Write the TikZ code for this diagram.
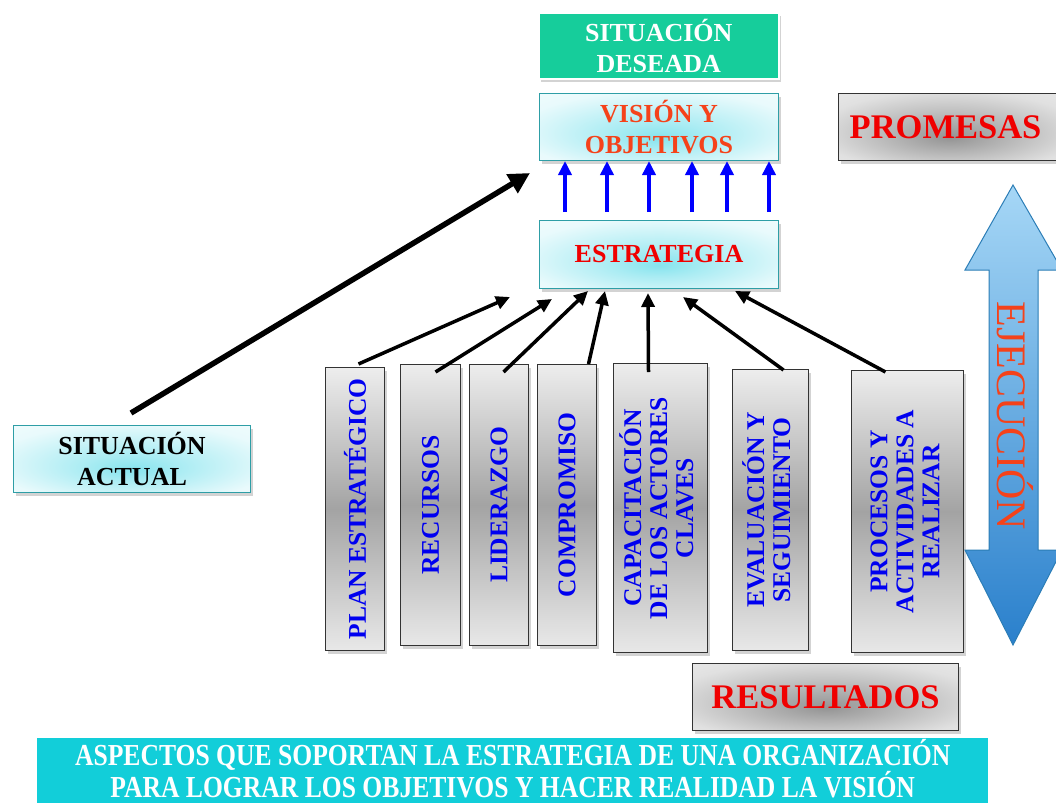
\documentclass[tikz,border=0pt]{standalone}
\usepackage{fontspec}
\setmainfont{Liberation Serif}
\newfontfamily\condfont[FakeStretch=0.84]{Liberation Serif}
\usetikzlibrary{shadows,arrows.meta,calc}
\definecolor{deseada}{HTML}{16CD9B}
\definecolor{boxcyan}{HTML}{86E4EE}
\definecolor{cyanedge}{HTML}{2E9EA6}
\definecolor{orangered}{HTML}{F5421A}
\definecolor{banner}{HTML}{12CED9}
\definecolor{txtblue}{HTML}{0000F0}
\definecolor{txtred}{HTML}{F00000}
\definecolor{arrtop}{HTML}{A6D7F6}
\definecolor{arrbot}{HTML}{2A80CC}
\definecolor{arredge}{HTML}{2B7DB6}
\pgfdeclareradialshading{cyanrad}{\pgfpoint{0bp}{-8bp}}{color(0bp)=(boxcyan); color(10bp)=(boxcyan!70); color(30bp)=(boxcyan!18); color(50bp)=(boxcyan!6)}
\pgfdeclareradialshading{grayrad}{\pgfpoint{0bp}{-8bp}}{color(0bp)=(black!42); color(10bp)=(black!32); color(30bp)=(black!12); color(50bp)=(black!5)}
\newcommand\vtxt{\fontsize{25.5}{29}\selectfont\bfseries\color{txtblue}}
\begin{document}
\begin{tikzpicture}[x=1pt,y=-1pt,
  shad/.style={drop shadow={shadow xshift=2pt,shadow yshift=-3pt,opacity=0.35}},
  cbox/.style={draw=cyanedge,line width=1pt,shading=cyanrad,shad,
     font=\fontsize{26}{31}\selectfont\bfseries,align=center,inner sep=0pt,anchor=north west},
  hbox/.style={draw=black!80,line width=1pt,shading=grayrad,shad,
     inner sep=0pt,anchor=north west},
  gbox/.style={draw=black!80,line width=1pt,top color=black!7,bottom color=black!9,middle color=black!36,shad,
     inner sep=0pt,anchor=north west},
  bigtext/.style={font=\fontsize{34.5}{40}\selectfont\bfseries,text=txtred},
  blk/.style={line width=3.5pt,-{Triangle[length=14pt,width=13pt]}},
  blu/.style={line width=3.5pt,draw=blue,-{Triangle[length=14pt,width=13pt]},blue}
]
\useasboundingbox (0,0) rectangle (1056,803);
\clip (0,0) rectangle (1056,803);

% top boxes
\node[draw=white,line width=1.5pt,fill=deseada,shad,minimum width=240pt,minimum height=66pt,
  anchor=north west,inner sep=0pt,align=center,text=white,font=\fontsize{26}{31}\selectfont\bfseries]
  (deseada) at (538,12) {SITUACIÓN\\DESEADA};
\node[cbox,minimum width=239pt,minimum height=67pt,text=orangered] (vision) at (539,93) {VISIÓN Y\\OBJETIVOS};
\node[cbox,minimum width=239pt,minimum height=68pt,text=txtred] (estr) at (539,220) {ESTRATEGIA};
\node[cbox,minimum width=237pt,minimum height=67pt,text=black] (actual) at (13,425) {SITUACIÓN\\ACTUAL};

\node[hbox,minimum width=222pt,minimum height=67pt,bigtext] (promesas) at (838,93) {\hspace*{-4pt}PROMESAS\hspace*{4pt}};
\node[hbox,minimum width=266pt,minimum height=67pt,bigtext] (result) at (692,663) {RESULTADOS};

% vertical boxes
\node[gbox,minimum width=59pt,minimum height=283pt] (plan) at (325,367)
  {\rotatebox{90}{\vtxt PLAN ESTRATÉGICO}};
\node[gbox,minimum width=60pt,minimum height=281pt] (rec) at (400,364)
  {\rotatebox{90}{\vtxt RECURSOS}};
\node[gbox,minimum width=59pt,minimum height=281pt] (lid) at (469,364)
  {\rotatebox{90}{\vtxt LIDERAZGO}};
\node[gbox,minimum width=59pt,minimum height=281pt] (comp) at (537,364)
  {\rotatebox{90}{\vtxt COMPROMISO}};
\node[gbox,minimum width=94pt,minimum height=289pt] (cap) at (613,363)
  {\rotatebox{90}{\vtxt\begin{tabular}{@{}c@{}}CAPACITACIÓN\\[-3pt]DE LOS ACTORES\\[-3pt]CLAVES\end{tabular}}};
\node[gbox,minimum width=76pt,minimum height=281pt] (eval) at (732,369)
  {\rotatebox{90}{\vtxt\begin{tabular}{@{}c@{}}EVALUACIÓN Y\\[-3pt]SEGUIMIENTO\end{tabular}}};
\node[gbox,minimum width=112pt,minimum height=282pt] (proc) at (851,370)
  {\rotatebox{90}{\vtxt\begin{tabular}{@{}c@{}}PROCESOS Y\\[-3pt]ACTIVIDADES A\\[-3pt]REALIZAR\end{tabular}}};

% double arrow
\path[draw=arredge,line width=1pt,top color=arrtop,bottom color=arrbot]
  (1013,185) -- (1062,270) -- (1038,270) -- (1038,550) -- (1062,550) -- (1013,645)
  -- (965,550) -- (989,550) -- (989,270) -- (965,270) -- cycle;
\node[rotate=-90,text=orangered,font=\fontsize{42}{42}\selectfont] (ejec) at (1015,416) {EJECUCIÓN};

% banner
\node[fill=banner,minimum width=951pt,minimum height=65pt,anchor=north west,inner sep=0pt] (banner) at (37,738) {};
\node[text=white,align=center,inner sep=0pt,font=\condfont\fontsize{30.5}{30}\selectfont\bfseries]
  (bannertxt) at ($(banner.center)+(0,-2)$)
  {ASPECTOS QUE SOPORTAN LA ESTRATEGIA DE UNA ORGANIZACIÓN\\PARA LOGRAR LOS OBJETIVOS Y HACER REALIDAD LA VISIÓN};

% blue arrows
\foreach \dx in {26,68,110,153,188,230}{
  \draw[blu] ($(estr.north west)+(\dx,-8)$) -- ($(vision.south west)+(\dx,0)$);
}

% black arrows
\draw[line width=5.5pt,-{Triangle[length=21pt,width=21pt]}] ($(actual.north)+(-1,-12)$) -- ($(vision.south west)+(-9,12)$);
\draw[blk] ($(plan.north)+(3.5,-3)$) -- ($(estr.south west)+(-29,8)$);
\draw[blk] ($(rec.north)+(5,8)$) -- ($(estr.south west)+(13,10)$);
\draw[blk] ($(lid.north)+(4.5,8)$) -- ($(estr.south west)+(49,2)$);
\draw[blk] ($(comp.north)+(21.5,0)$) -- ($(estr.south west)+(66,2)$);
\draw[blk] ($(cap.north)+(-12,9)$) -- ($(estr.south west)+(109,4)$);
\draw[blk] ($(eval.north)+(13,1)$) -- ($(estr.south west)+(144,8)$);
\draw[blk] ($(proc.north)+(-22,2)$) -- ($(estr.south west)+(196,2)$);
\end{tikzpicture}
\end{document}
